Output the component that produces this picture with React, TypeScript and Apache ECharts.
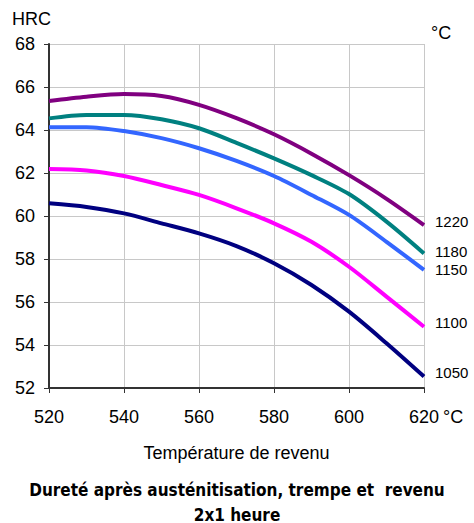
import React, { useEffect, useRef } from "react";
import * as echarts from "echarts";

const temps = [520, 530, 540, 550, 560, 570, 580, 590, 600, 610, 620];
const s1220 = [65.35, 65.55, 65.67, 65.58, 65.17, 64.55, 63.8, 62.9, 61.9, 60.8, 59.58];
const s1180 = [64.54, 64.7, 64.7, 64.5, 64.08, 63.4, 62.68, 61.9, 61.02, 59.74, 58.26];
const s1150 = [64.13, 64.13, 63.95, 63.62, 63.15, 62.56, 61.86, 60.98, 60.05, 58.8, 57.49];
const s1100 = [62.19, 62.12, 61.86, 61.44, 60.98, 60.36, 59.66, 58.8, 57.64, 56.25, 54.85];
const s1050 = [60.59, 60.42, 60.12, 59.66, 59.19, 58.6, 57.8, 56.79, 55.55, 54.08, 52.53];

const seriesNames = ["1220", "1180", "1150", "1100", "1050"];
const seriesData = [s1220, s1180, s1150, s1100, s1050];
const colors = ["#800080", "#008080", "#3366ff", "#ff00ff", "#000080"];
const labelOffsets = [[0, -4], [0, -2], [0, 0], [0, -4], [0, -4]];

const FONT = "Liberation Sans, Arial, sans-serif";

export default function App() {
  const ref = useRef<HTMLDivElement>(null);
  useEffect(() => {
    const chart = echarts.init(ref.current!, null, { renderer: "svg" });
    chart.setOption({
      animation: false,
      backgroundColor: "#ffffff",
      title: {
        text: "Dureté après austénitisation, trempe et  revenu\n2x1 heure",
        left: "center",
        top: 477,
        padding: 0,
        textStyle: {
          fontFamily: "DejaVu Sans Condensed, DejaVu Sans, sans-serif",
          fontWeight: "bold",
          fontSize: 17,
          lineHeight: 25,
          color: "#000",
        },
      },
      grid: { left: 49, right: 50, top: 44, bottom: 135 },
      xAxis: {
        type: "value",
        min: 520,
        max: 620,
        interval: 20,
        name: "Température de revenu",
        nameLocation: "middle",
        nameGap: 56,
        nameTextStyle: { fontFamily: FONT, fontSize: 18, color: "#000" },
        axisLine: { onZero: false, lineStyle: { color: "#333", width: 2 } },
        axisTick: { show: true, length: 5, lineStyle: { color: "#333" } },
        axisLabel: { fontFamily: FONT, fontSize: 18, color: "#000", margin: 20 },
        splitLine: { show: true, lineStyle: { color: "#c8c8c8", width: 1 } },
      },
      yAxis: {
        type: "value",
        min: 52,
        max: 68,
        interval: 2,
        axisLine: { show: true, lineStyle: { color: "#333", width: 2 } },
        axisTick: { show: true, length: 5, lineStyle: { color: "#333" } },
        axisLabel: { fontFamily: FONT, fontSize: 18, color: "#000", margin: 14 },
        splitLine: { show: true, lineStyle: { color: "#c8c8c8", width: 1 } },
      },
      graphic: [
        { type: "text", left: 12, top: 10, style: { text: "HRC", fontFamily: FONT, fontSize: 18, fill: "#000" } },
        { type: "text", left: 431, top: 24, style: { text: "°C", fontFamily: FONT, fontSize: 18, fill: "#000" } },
        { type: "text", left: 443, top: 408, style: { text: "°C", fontFamily: FONT, fontSize: 18, fill: "#000" } },
      ],
      series: seriesNames.map((name, i) => ({
        name,
        type: "line",
        smooth: 0.3,
        symbol: "none",
        data: temps.map((t, j) => [t, seriesData[i][j]]),
        lineStyle: { color: colors[i], width: 4 },
        itemStyle: { color: colors[i] },
        endLabel: {
          show: true,
          formatter: name,
          fontFamily: FONT,
          fontSize: 15,
          color: "#000",
          distance: 11,
          offset: labelOffsets[i],
        },
      })),
    });
    return () => chart.dispose();
  }, []);
  return (
    <div
      ref={ref}
      style={{ position: "absolute", left: 0, top: 0, width: 474, height: 523 }}
    />
  );
}
